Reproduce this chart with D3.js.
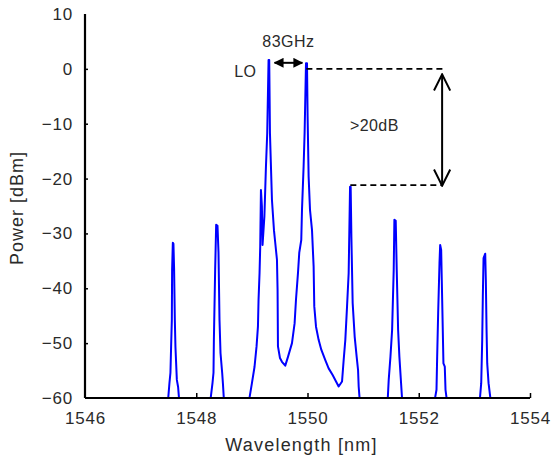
<!DOCTYPE html>
<html>
<head>
<meta charset="utf-8">
<script src="https://cdn.jsdelivr.net/npm/d3@7"></script>
<style>
  body { margin: 0; background: #fff; }
  text { font-family: "Liberation Sans", Arial, sans-serif; fill: #2a2a2a; }
  .axis path, .axis line { stroke: #000; }
  .axis path { stroke-width: 2.2; }
  .axis line { stroke-width: 1.5; }
  .axis text { font-size: 17px; letter-spacing: 0.8px; }
</style>
</head>
<body>
<div id="chart"></div>
<script>

// spectrum segments, [wavelength nm, power dBm]
var peak1 = [[1547.494,-60.3],[1547.518,-57.3],[1547.536,-55.4],[1547.548,-50.7],[1547.561,-45.8],
  [1547.566,-36.6],[1547.579,-31.7],[1547.590,-31.9],[1547.602,-36.6],[1547.615,-45.8],
  [1547.626,-50.7],[1547.651,-56.7],[1547.674,-58.0],[1547.692,-60.3]];

var peak2 = [[1548.256,-60.3],[1548.292,-57.3],[1548.310,-55.4],[1548.317,-49.4],[1548.340,-36.6],
  [1548.358,-28.4],[1548.382,-28.6],[1548.400,-33.5],[1548.418,-45.8],[1548.436,-51.8],
  [1548.466,-55.4],[1548.479,-57.3],[1548.497,-60.3]];

// LO, first sideband and the +2 line, one continuous trace
var centre = [[1548.952,-60.3],[1549.001,-57.3],[1549.048,-54.3],[1549.084,-50.6],[1549.109,-47.0],
  [1549.120,-42.1],[1549.138,-37.2],[1549.150,-32.4],[1549.163,-22.1],[1549.180,-25.0],[1549.192,-32.1],
  [1549.225,-26.9],[1549.253,-17.8],[1549.276,-11.7],[1549.300,1.6],[1549.312,1.6],[1549.325,-11.7],
  [1549.361,-23.9],[1549.397,-29.4],[1549.420,-31.7],[1549.451,-34.8],[1549.462,-40.3],
  [1549.469,-50.6],[1549.505,-52.7],[1549.541,-53.4],[1549.600,-54.1],[1549.649,-52.5],
  [1549.721,-50.0],[1549.768,-46.4],[1549.793,-42.1],[1549.829,-37.2],[1549.852,-33.5],
  [1549.888,-31.2],[1549.901,-25.7],[1549.930,-17.8],[1549.948,-11.7],[1549.973,1.0],
  [1549.991,1.0],[1550.002,-8.7],[1550.020,-19.6],[1550.045,-25.7],[1550.081,-29.4],
  [1550.110,-36.0],[1550.122,-43.3],[1550.153,-47.0],[1550.200,-49.4],[1550.248,-51.2],
  [1550.320,-53.1],[1550.380,-54.6],[1550.452,-55.8],[1550.513,-57.0],[1550.560,-57.9],
  [1550.621,-57.0],[1550.650,-53.1],[1550.680,-49.4],[1550.711,-43.3],[1550.740,-37.2],
  [1550.765,-21.5],[1550.776,-21.5],[1550.789,-30.6],[1550.812,-42.7],[1550.848,-48.8],
  [1550.884,-52.5],[1550.909,-54.9],[1550.920,-57.9],[1550.938,-60.3]];

var peak6 = [[1551.442,-60.3],[1551.460,-56.7],[1551.491,-52.5],[1551.521,-47.6],[1551.550,-36.6],
  [1551.562,-27.5],[1551.586,-27.7],[1551.604,-36.6],[1551.629,-47.6],[1551.652,-52.5],
  [1551.676,-56.3],[1551.701,-60.3]];

var peak7 = [[1552.288,-60.3],[1552.319,-58.5],[1552.331,-52.5],[1552.349,-44.5],[1552.373,-35.4],
  [1552.385,-32.1],[1552.403,-33.0],[1552.414,-38.5],[1552.432,-47.6],[1552.444,-53.7],
  [1552.468,-54.3],[1552.481,-58.5],[1552.504,-60.3]];

var peak8 = [[1553.098,-60.3],[1553.123,-57.3],[1553.141,-49.4],[1553.152,-41.5],[1553.165,-34.5],
  [1553.195,-33.7],[1553.206,-38.5],[1553.219,-47.6],[1553.231,-53.7],[1553.255,-57.3],
  [1553.291,-60.3]];

var segments = [peak1, peak2, centre, peak6, peak7, peak8];

var xTicks = [1546, 1548, 1550, 1552, 1554];
var yTicks = [10, 0, -10, -20, -30, -40, -50, -60];

var width = 554, height = 459;
var margin = {left: 85, top: 14, right: 24, bottom: 61};

var svg = d3.select("#chart").append("svg")
    .attr("width", width)
    .attr("height", height);

var x = d3.scaleLinear()
    .domain([1546, 1554])
    .range([margin.left, width - margin.right]);

var y = d3.scaleLinear()
    .domain([-60, 10])
    .range([height - margin.bottom, margin.top]);

svg.append("clipPath").attr("id", "plotclip")
  .append("rect")
    .attr("x", x(1546)).attr("y", y(10) - 10)
    .attr("width", x(1554) - x(1546))
    .attr("height", y(-60) - y(10) + 10);

var line = d3.line()
    .x(function(d) { return x(d[0]); })
    .y(function(d) { return y(d[1]); });

svg.append("g")
    .attr("clip-path", "url(#plotclip)")
  .selectAll("path")
    .data(segments)
  .enter().append("path")
    .attr("d", line)
    .attr("fill", "none")
    .attr("stroke", "#0000ff")
    .attr("stroke-width", 2)
    .attr("stroke-linejoin", "round");

// axes
var xAxis = d3.axisBottom(x).tickValues(xTicks).tickSize(-5).tickPadding(12).tickFormat(d3.format("d"));
var yAxis = d3.axisLeft(y).tickValues(yTicks).tickSize(-3).tickPadding(12);

svg.append("g")
    .attr("class", "axis")
    .attr("transform", "translate(0," + y(-60) + ")")
    .call(xAxis)
    .call(function(g) { g.select(".domain").attr("d", "M" + x(1546) + ",0H" + x(1554)); })
    .call(function(g) { g.selectAll(".tick text").attr("dy", "0.85em"); });

svg.append("g")
    .attr("class", "axis")
    .attr("transform", "translate(" + x(1546) + ",0)")
    .call(yAxis)
    .call(function(g) { g.select(".domain").attr("d", "M0," + y(10) + "V" + y(-60)); });

svg.selectAll(".axis .tick line").filter(function(d) { return d === 1546 || d === 10 || d === -60; })
    .remove();

svg.append("text")
    .attr("x", x(1550) - 6)
    .attr("y", 451)
    .attr("text-anchor", "middle")
    .style("font-size", "18px")
    .style("letter-spacing", "1.2px")
    .text("Wavelength [nm]");

svg.append("text")
    .attr("transform", "translate(23," + ((y(10) + y(-60)) / 2 + 2) + ") rotate(-90)")
    .attr("text-anchor", "middle")
    .style("font-size", "18px")
    .style("letter-spacing", "1px")
    .text("Power [dBm]");

// annotations
var defs = svg.append("defs");
defs.append("marker")
    .attr("id", "solidhead")
    .attr("viewBox", "0 0 10 10")
    .attr("refX", 9).attr("refY", 5)
    .attr("markerWidth", 5).attr("markerHeight", 5)
    .attr("orient", "auto-start-reverse")
  .append("path")
    .attr("d", "M0,0L10,5L0,10z")
    .attr("fill", "#000");

defs.append("marker")
    .attr("id", "openhead")
    .attr("viewBox", "0 0 20 20")
    .attr("refX", 19).attr("refY", 10)
    .attr("markerWidth", 18).attr("markerHeight", 18)
    .attr("markerUnits", "userSpaceOnUse")
    .attr("orient", "auto-start-reverse")
  .append("path")
    .attr("d", "M1,1L19,10L1,19")
    .attr("fill", "none")
    .attr("stroke", "#000")
    .attr("stroke-width", 2.2);

var loPeak = 1549.30, sb1 = 1549.98, sb2 = 1550.77;

svg.append("line")
    .attr("x1", x(loPeak) + 6).attr("x2", x(sb1) - 4)
    .attr("y1", y(1.1)).attr("y2", y(1.1))
    .attr("stroke", "#000").attr("stroke-width", 2)
    .attr("marker-start", "url(#solidhead)")
    .attr("marker-end", "url(#solidhead)");

svg.append("text")
    .attr("x", (x(loPeak) + x(sb1)) / 2 + 1)
    .attr("y", 47)
    .attr("text-anchor", "middle")
    .style("font-size", "16px")
    .style("letter-spacing", "0.5px")
    .text("83GHz");

svg.append("text")
    .attr("x", x(loPeak) - 12)
    .attr("y", 77)
    .attr("text-anchor", "end")
    .style("font-size", "16px")
    .style("letter-spacing", "0.5px")
    .text("LO");

svg.append("line")
    .attr("x1", x(sb1)).attr("x2", x(1552.48))
    .attr("y1", y(0)).attr("y2", y(0))
    .attr("stroke", "#000").attr("stroke-width", 1.6)
    .attr("stroke-dasharray", "6,4");

svg.append("line")
    .attr("x1", x(sb2)).attr("x2", x(1552.42))
    .attr("y1", y(-21.2)).attr("y2", y(-21.2))
    .attr("stroke", "#000").attr("stroke-width", 1.6)
    .attr("stroke-dasharray", "6,4");

svg.append("line")
    .attr("x1", x(1552.42)).attr("x2", x(1552.42))
    .attr("y1", y(-1.0)).attr("y2", y(-21.3))
    .attr("stroke", "#000").attr("stroke-width", 2)
    .attr("marker-start", "url(#openhead)")
    .attr("marker-end", "url(#openhead)");

svg.append("text")
    .attr("x", 350)
    .attr("y", 131)
    .style("font-size", "16px")
    .style("letter-spacing", "0.4px")
    .text(">20dB");

</script>
</body>
</html>
